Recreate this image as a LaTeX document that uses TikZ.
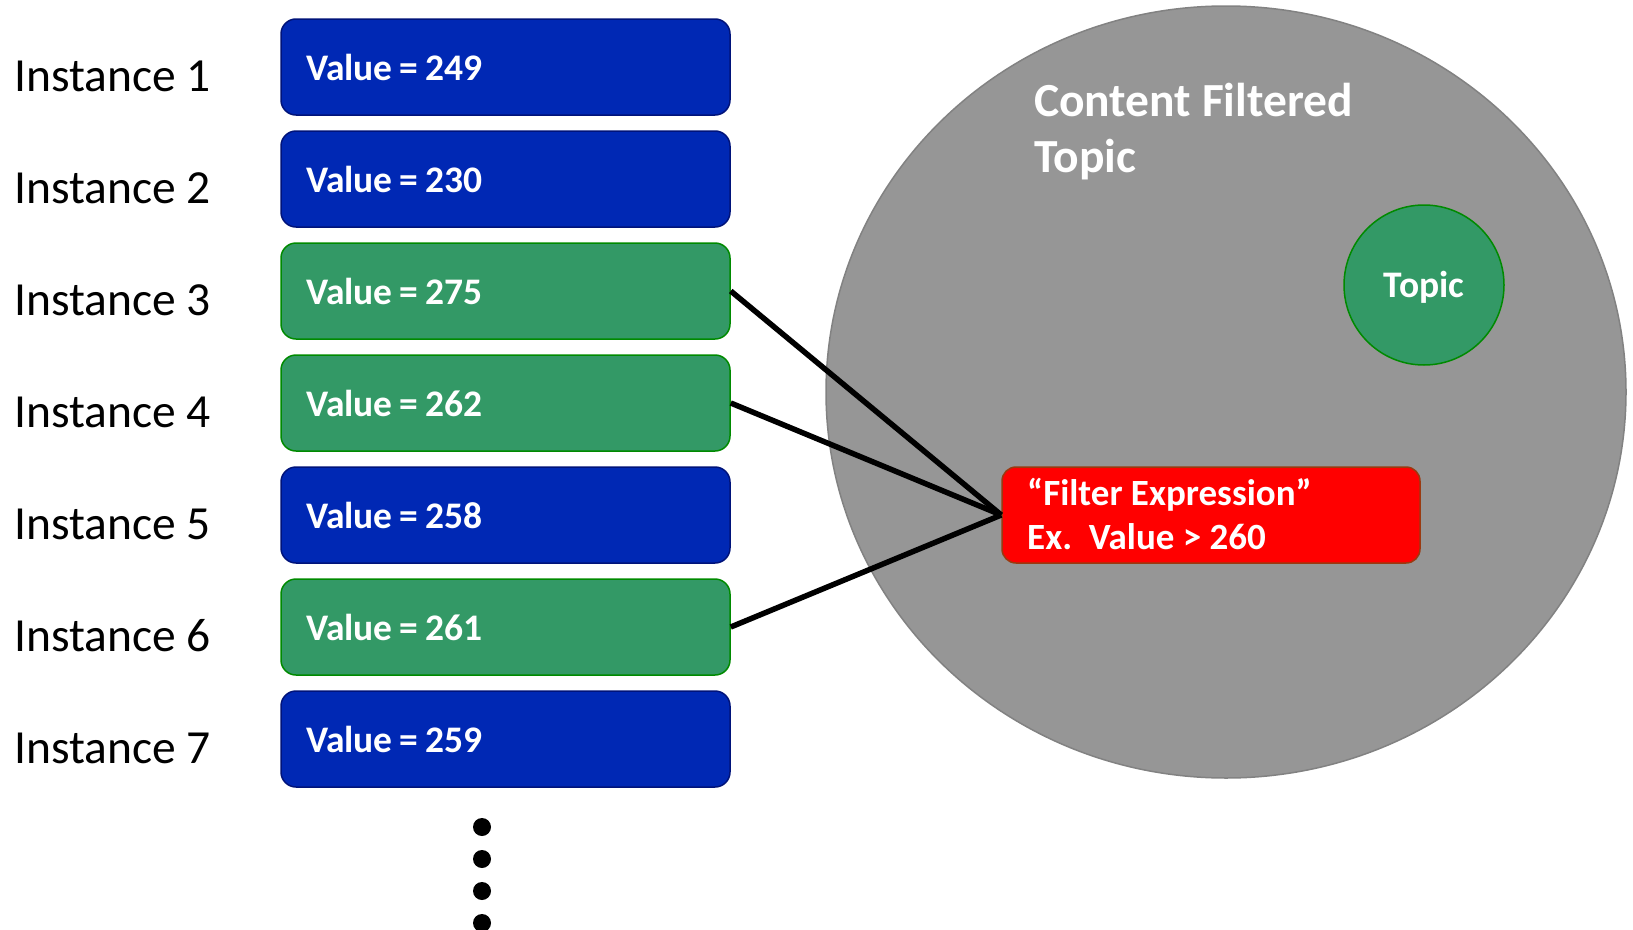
\documentclass[tikz,border=0pt]{standalone}
\usepackage{fontspec}
\setmainfont{Carlito}
\usetikzlibrary{shapes.geometric}
\definecolor{valblue}{HTML}{0028B4}
\definecolor{valblueedge}{HTML}{00137A}
\definecolor{valgreen}{HTML}{339966}
\definecolor{valgreenedge}{HTML}{008A00}
\definecolor{topicgray}{HTML}{969696}
\definecolor{topicgrayedge}{HTML}{828282}
\definecolor{filterred}{HTML}{FF0000}
\definecolor{filterredge}{HTML}{9A3A10}
% sample value text with fixed spacing round the equals sign
\newcommand\valuetext[1]{Value\kern7pt=\kern7pt#1}
\tikzset{
  valuebox/.style={rectangle, rounded corners=15pt, line width=1.5pt,
    minimum width=449pt, minimum height=96pt, text width=399pt,
    inner xsep=25pt, inner ysep=0pt, align=left,
    text height=26pt, text depth=0pt, text=white,
    font=\fontsize{37.5}{40}\selectfont\bfseries},
  passbox/.style={valuebox, fill=valgreen, draw=valgreenedge},
  dropbox/.style={valuebox, fill=valblue, draw=valblueedge},
  instlabel/.style={anchor=base west, inner sep=0pt,
    font=\fontsize{47.5}{52}\selectfont},
  whitebold/.style={anchor=base west, inner sep=0pt, text=white},
  link/.style={line width=5.5pt, black},
}
\begin{document}
\begin{tikzpicture}[x=1pt, y=-1pt]
  \useasboundingbox (0,0) rectangle (1633,929);
  \clip (0,0) rectangle (1633,929);

  % the content filtered topic
  \node[ellipse, fill=topicgray, draw=topicgrayedge, line width=1.5pt,
        minimum width=800pt, minimum height=772pt, inner sep=0pt]
        (cft) at (1226,392) {};
  \node[whitebold, font=\fontsize{47.5}{52}\selectfont\bfseries]
        (cfttitle1) at (1034,116) {Content Filtered};
  \node[whitebold, font=\fontsize{47.5}{52}\selectfont\bfseries]
        (cfttitle2) at (1034,172) {Topic};

  % the underlying topic
  \node[circle, fill=valgreen, draw=valgreenedge, line width=1.5pt,
        minimum size=160pt, inner sep=0pt, text=white,
        text height=24pt, text depth=0pt,
        font=\fontsize{37.5}{40}\selectfont\bfseries]
        (topic) at (1424,285) {Topic};

  % instance labels and their samples
  \foreach \k/\v/\s in {1/249/dropbox, 2/230/dropbox, 3/275/passbox,
                        4/262/passbox, 5/258/dropbox, 6/261/passbox,
                        7/259/dropbox} {
    \node[instlabel] (inst\k) at (14, {91+112*(\k-1)}) {Instance \k};
    \node[\s] (val\k) at (505.5, {67+112*(\k-1)}) {\valuetext{\v}};
  }

  % filter expression
  \node[rectangle, rounded corners=14pt, fill=filterred, draw=filterredge,
        line width=1.5pt, minimum width=418pt, minimum height=96pt,
        inner sep=0pt] (filter) at (1211,515) {};
  \node[whitebold, font=\fontsize{37}{40}\selectfont\bfseries]
        (filterline1) at (1027,505) {“Filter Expression”};
  \node[whitebold, font=\fontsize{37}{40}\selectfont\bfseries]
        (filterline2) at (1027,549) {Ex.\ \ Value > 260};

  % samples that pass the filter
  \draw[link] (val3.east) -- (filter.west);
  \draw[link] (val4.east) -- (filter.west);
  \draw[link] (val6.east) -- (filter.west);

  % more instances follow
  \foreach \y in {827,859,891,923}
    \fill[black] (482,\y) circle[radius=9pt];
\end{tikzpicture}
\end{document}
